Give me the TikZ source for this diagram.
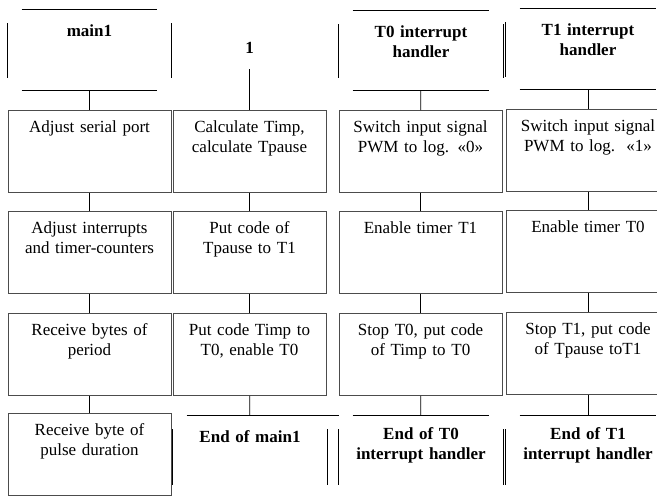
\documentclass[tikz,border=0pt]{standalone}
\usepackage{fontspec}
\setmainfont{Liberation Serif}
\usepackage{tikz}

\newcommand{\diagfont}{\fontsize{17pt}{20pt}\selectfont}

\tikzset{
  box/.style={draw=black!70, align=center, inner sep=0pt, text width=163pt,
    text height=22pt, text depth=60pt, anchor=north, font=\diagfont},
  term/.style={align=center, inner sep=0pt, text width=164pt,
    text height=27pt, text depth=54pt, anchor=north, font=\diagfont\bfseries}
}

\newcommand{\termlines}[1]{%
  \draw ([xshift=14pt]#1.north west) -- ([xshift=-14pt]#1.north east);
  \draw ([xshift=14pt]#1.south west) -- ([xshift=-14pt]#1.south east);
  \draw ([yshift=-14pt]#1.north west) -- ([yshift=13pt]#1.south west);
  \draw ([yshift=-14pt]#1.north east) -- ([yshift=13pt]#1.south east);}

\begin{document}
\begin{tikzpicture}[x=1pt, y=-1pt, line width=0.8pt]
\useasboundingbox (0,0) rectangle (657,496);

\node[term, text width=163pt] (m0) at (89.5,9) {main1};
\node[box] (m1) at (89.5,110) {Adjust serial port};
\node[box] (m2) at (89.5,211) {Adjust interrupts\\and timer-counters};
\node[box] (m3) at (89.5,313) {Receive bytes of\\period};
\node[box] (m4) at (89.5,413) {Receive byte of\\pulse duration};

\node[font=\diagfont\bfseries, inner sep=0pt, minimum width=40pt, minimum height=42pt] (s0) at (249.5,48) {1};
\node[box, text width=153pt] (s1) at (249.5,110) {Calculate Timp,\\calculate Tpause};
\node[box, text width=153pt] (s2) at (249.5,211) {Put code of\\Tpause to T1};
\node[box, text width=153pt] (s3) at (249.5,313) {Put code Timp to\\T0, enable T0};
\node[term, text width=154pt, text depth=55pt] (s4) at (250,415) {End of main1};

\node[term, text depth=53pt] (a0) at (421,10) {T0 interrupt\\handler};
\node[box] (a1) at (420.5,110) {Switch input signal\\PWM to log. «0»};
\node[box] (a2) at (420.5,211) {Enable timer T1};
\node[box] (a3) at (420.5,313) {Stop T0, put code\\of Timp to T0};
\node[term, text height=24pt, text depth=58pt] (a4) at (421,415) {End of T0\\interrupt handler};

\node[term] (b0) at (588,8) {T1 interrupt\\handler};
\node[box, text width=164pt] (b1) at (588,109) {Switch input signal\\PWM to log.~~«1»};
\node[box, text width=164pt] (b2) at (588,210) {Enable timer T0};
\node[box, text width=164pt] (b3) at (588,312) {Stop T1, put code\\of Tpause toT1};
\node[term, text height=24pt, text depth=58pt] (b4) at (588,415) {End of T1\\interrupt handler};

\termlines{m0}
\termlines{a0}
\termlines{b0}
\termlines{s4}
\termlines{a4}
\termlines{b4}
\draw ([xshift=-14pt]s4.north east) -- ([xshift=12pt]s4.north east);

\draw (m0) -- (m1);
\draw (m1) -- (m2);
\draw (m2) -- (m3);
\draw (m3) -- (m4);

\draw (s0) -- (s1);
\draw (s1) -- (s2);
\draw (s2) -- (s3);
\draw (s3) -- (s4);

\draw (a0) -- (a1);
\draw (a1) -- (a2);
\draw (a2) -- (a3);
\draw (a3) -- (a4);

\draw (b0) -- (b1);
\draw (b1) -- (b2);
\draw (b2) -- (b3);
\draw (b3) -- (b4);

\end{tikzpicture}
\end{document}
